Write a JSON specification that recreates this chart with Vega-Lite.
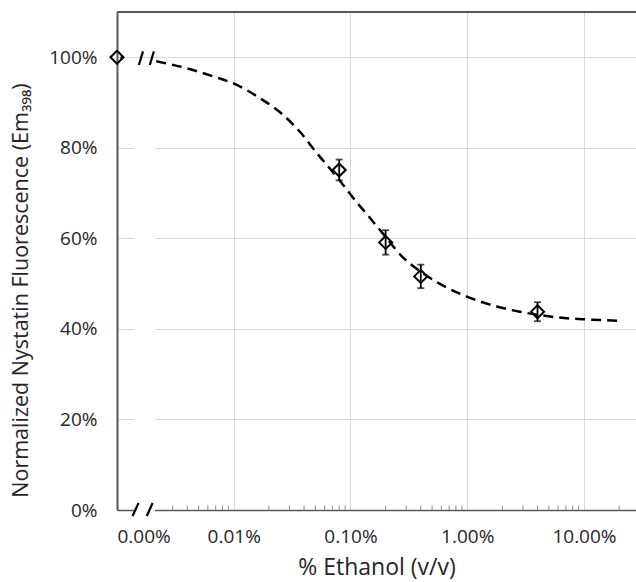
{
  "$schema": "https://vega.github.io/schema/vega-lite/v6.json",
  "width": 519,
  "height": 498,
  "autosize": {"type": "none"},
  "padding": {"left": 117, "top": 12, "right": 0, "bottom": 72},
  "background": "white",
  "config": {
    "font": "Open Sans",
    "view": {"stroke": null},
    "axis": {
      "gridColor": "#d9d9d9",
      "gridWidth": 1,
      "domainColor": "#595959",
      "ticks": false,
      "labelColor": "#262626",
      "titleColor": "#262626",
      "labelFontSize": 19,
      "titleFontSize": 23,
      "titleFontWeight": "normal"
    }
  },
  "datasets": {
    "points": [
      {"ethanol": 0.001, "fluor": 100, "lo": null, "hi": null},
      {"ethanol": 0.08, "fluor": 75.1, "lo": 72.8, "hi": 77.4},
      {"ethanol": 0.2, "fluor": 59.1, "lo": 56.4, "hi": 61.8},
      {"ethanol": 0.4, "fluor": 51.6, "lo": 49.0, "hi": 54.2},
      {"ethanol": 4, "fluor": 43.8, "lo": 41.7, "hi": 45.9}
    ],
    "curve": [
      {"ethanol": 0.00217, "fluor": 99.1},
      {"ethanol": 0.00393, "fluor": 97.6},
      {"ethanol": 0.00663, "fluor": 95.8},
      {"ethanol": 0.0102, "fluor": 94.1},
      {"ethanol": 0.0167, "fluor": 91.0},
      {"ethanol": 0.0264, "fluor": 87.3},
      {"ethanol": 0.0367, "fluor": 83.6},
      {"ethanol": 0.0509, "fluor": 79.0},
      {"ethanol": 0.0796, "fluor": 73.0},
      {"ethanol": 0.105, "fluor": 69.0},
      {"ethanol": 0.146, "fluor": 64.6},
      {"ethanol": 0.196, "fluor": 60.6},
      {"ethanol": 0.281, "fluor": 55.8},
      {"ethanol": 0.391, "fluor": 52.8},
      {"ethanol": 0.579, "fluor": 50.0},
      {"ethanol": 0.98, "fluor": 47.2},
      {"ethanol": 1.89, "fluor": 44.8},
      {"ethanol": 2.81, "fluor": 43.8},
      {"ethanol": 4.08, "fluor": 43.1},
      {"ethanol": 6.17, "fluor": 42.5},
      {"ethanol": 10.45, "fluor": 42.1},
      {"ethanol": 20.1, "fluor": 41.8}
    ],
    "minor": [
      {"ethanol": 0.003}, {"ethanol": 0.004}, {"ethanol": 0.005}, {"ethanol": 0.006}, {"ethanol": 0.007}, {"ethanol": 0.008}, {"ethanol": 0.009},
      {"ethanol": 0.02}, {"ethanol": 0.03}, {"ethanol": 0.04}, {"ethanol": 0.05}, {"ethanol": 0.06}, {"ethanol": 0.07}, {"ethanol": 0.08}, {"ethanol": 0.09},
      {"ethanol": 0.2}, {"ethanol": 0.3}, {"ethanol": 0.4}, {"ethanol": 0.5}, {"ethanol": 0.6}, {"ethanol": 0.7}, {"ethanol": 0.8}, {"ethanol": 0.9},
      {"ethanol": 2}, {"ethanol": 3}, {"ethanol": 4}, {"ethanol": 5}, {"ethanol": 6}, {"ethanol": 7}, {"ethanol": 8}, {"ethanol": 9},
      {"ethanol": 20}
    ],
    "slashes": [
      {"x1": 0.00136, "x2": 0.00153, "y1": -1.33, "y2": 1.55},
      {"x1": 0.0018, "x2": 0.00202, "y1": -1.33, "y2": 1.55},
      {"x1": 0.00154, "x2": 0.00167, "y1": 98.3, "y2": 101.3},
      {"x1": 0.00191, "x2": 0.00207, "y1": 98.3, "y2": 101.3}
    ],
    "mask": [
      {"x1": 0.0014, "x2": 0.00212, "y1": -1.5, "y2": 96}
    ],
    "connector": [
      {"x1": 0.00107, "x2": 0.00114, "y1": 99.9}
    ],
    "border": [
      {"top": 110}
    ]
  },
  "layer": [
    {
      "data": {"name": "mask"},
      "mark": {"type": "rect", "color": "white"},
      "encoding": {
        "x": {
          "field": "x1", "type": "quantitative",
          "scale": {"type": "log", "domain": [0.001, 27.9], "nice": false},
          "axis": {
            "values": [0.001, 0.01, 0.1, 1, 10],
            "labelExpr": "format(datum.value, '.2f') + '%'",
            "grid": true,
            "domainWidth": 1.5,
            "labelPadding": 17,
            "title": "% Ethanol (v/v)",
            "titleY": 46
          }
        },
        "x2": {"field": "x2"},
        "y": {
          "field": "y1", "type": "quantitative",
          "scale": {"domain": [0, 110], "nice": false},
          "axis": {
            "values": [0, 20, 40, 60, 80, 100],
            "labelExpr": "datum.value + '%'",
            "grid": true,
            "domainWidth": 2,
            "labelPadding": 20,
            "title": "Normalized Nystatin Fluorescence (Em₃₉₈)",
            "titleFontSize": 21.5,
            "titleX": -85,
            "titleY": 278
          }
        },
        "y2": {"field": "y2"}
      }
    },
    {
      "data": {"name": "minor"},
      "mark": {"type": "rule", "color": "#8c8c8c", "strokeWidth": 1},
      "encoding": {
        "x": {"field": "ethanol", "type": "quantitative"},
        "y": {"datum": 0},
        "y2": {"datum": 1}
      }
    },
    {
      "data": {"name": "curve"},
      "mark": {"type": "line", "color": "black", "strokeWidth": 2.5, "strokeDash": [10, 6], "interpolate": "monotone"},
      "encoding": {
        "x": {"field": "ethanol", "type": "quantitative"},
        "y": {"field": "fluor", "type": "quantitative"}
      }
    },
    {
      "data": {"name": "connector"},
      "mark": {"type": "rule", "color": "black", "strokeWidth": 2.5},
      "encoding": {
        "x": {"field": "x1", "type": "quantitative"},
        "x2": {"field": "x2"},
        "y": {"field": "y1", "type": "quantitative"}
      }
    },
    {
      "data": {"name": "slashes"},
      "mark": {"type": "rule", "color": "black", "strokeWidth": 2.2},
      "encoding": {
        "x": {"field": "x1", "type": "quantitative"},
        "x2": {"field": "x2"},
        "y": {"field": "y1", "type": "quantitative"},
        "y2": {"field": "y2"}
      }
    },
    {
      "data": {"name": "points"},
      "transform": [{"filter": "datum.lo != null"}],
      "mark": {"type": "errorbar", "ticks": {"size": 7, "thickness": 1.8, "color": "black"}, "rule": {"strokeWidth": 1.8, "color": "black"}},
      "encoding": {
        "x": {"field": "ethanol", "type": "quantitative"},
        "y": {"field": "lo", "type": "quantitative", "title": "Normalized Nystatin Fluorescence (Em₃₉₈)"},
        "y2": {"field": "hi"}
      }
    },
    {
      "data": {"name": "points"},
      "mark": {"type": "point", "shape": "diamond", "filled": false, "color": "black", "strokeWidth": 2, "size": 170, "opacity": 1},
      "encoding": {
        "x": {"field": "ethanol", "type": "quantitative"},
        "y": {"field": "fluor", "type": "quantitative"}
      }
    },
    {
      "data": {"name": "border"},
      "mark": {"type": "rule", "color": "#595959", "strokeWidth": 2},
      "encoding": {
        "y": {"field": "top", "type": "quantitative"}
      }
    }
  ]
}
